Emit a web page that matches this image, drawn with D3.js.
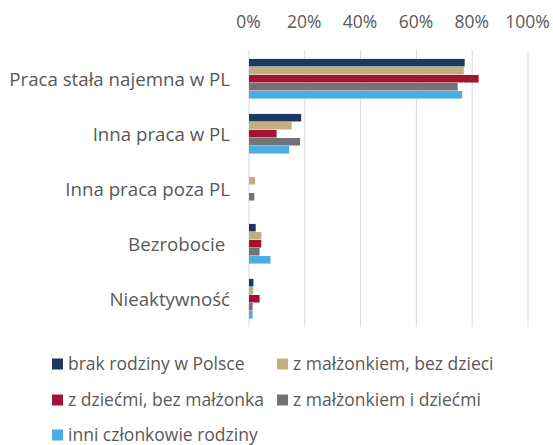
<!DOCTYPE html>
<html>
<head>
<meta charset="utf-8">
<script src="https://cdn.jsdelivr.net/npm/d3@7"></script>
<style>
  body { margin: 0; background: #fff; }
  svg text { font-family: "Open Sans", sans-serif; fill: #595959; white-space: pre; }
</style>
</head>
<body>
<div id="chart"></div>
<script>
var categories = ['Praca stała najemna w PL', 'Inna praca w PL', 'Inna praca poza PL', 'Bezrobocie ', 'Nieaktywność'];
var seriesNames = ['brak rodziny w Polsce', 'z małżonkiem, bez dzieci', 'z dziećmi, bez małżonka', 'z małżonkiem i dziećmi', 'inni członkowie rodziny'];
var seriesColors = ['#1f3862', '#c2ae7e', '#a11532', '#737373', '#4aaee2'];
// values in %, one array per series, in category order
var brakRodziny = [77.3, 18.7, 0, 2.4, 1.6];
var malzonekBezDzieci = [77.0, 15.3, 2.2, 4.4, 1.5];
var dzieciBezMalzonka = [82.3, 9.9, 0, 4.4, 3.8];
var malzonekIDzieci = [74.8, 18.3, 1.9, 3.8, 1.3];
var inniCzlonkowie = [76.4, 14.4, 0, 7.7, 1.3];
var tickValues = [0, 20, 40, 60, 80, 100];

var series = [brakRodziny, malzonekBezDzieci, dzieciBezMalzonka, malzonekIDzieci, inniCzlonkowie];

var width = 553, height = 445;
var svg = d3.select('#chart').append('svg')
    .attr('width', width)
    .attr('height', height);

var x = d3.scaleLinear().domain([0, 100]).range([248.5, 527.5]);
var y = d3.scaleBand().domain(categories).range([51.5, 326.5]).paddingInner(0.27).paddingOuter(0.135);
var yInner = d3.scaleBand().domain(d3.range(series.length)).range([0, y.bandwidth()]);

// gridlines + tick marks
svg.append('g').selectAll('line')
    .data(tickValues).enter().append('line')
    .attr('x1', function(d){ return x(d) + 0.5; })
    .attr('x2', function(d){ return x(d) + 0.5; })
    .attr('y1', 50)
    .attr('y2', 327)
    .attr('stroke', '#d9d9d9')
    .attr('stroke-width', 1);

// tick labels
svg.append('g').selectAll('text')
    .data(tickValues).enter().append('text')
    .attr('x', function(d){ return x(d); })
    .attr('y', 28)
    .attr('text-anchor', 'middle')
    .attr('font-size', 17.5)
    .text(function(d){ return d + '%'; });

// bars
var groups = svg.append('g').selectAll('g')
    .data(categories).enter().append('g')
    .attr('transform', function(c){ return 'translate(0,' + y(c) + ')'; });

groups.selectAll('rect')
    .data(function(c, ci){ return series.map(function(s, si){ return {si: si, v: s[ci]}; }); })
    .enter().append('rect')
    .attr('x', x(0) + 0.5)
    .attr('y', function(d){ return yInner(d.si); })
    .attr('height', yInner.bandwidth() - 0.5)
    .attr('width', function(d){ return Math.max(0, x(d.v) - x(0)); })
    .attr('fill', function(d){ return seriesColors[d.si]; });

// category labels
svg.append('g').selectAll('text')
    .data(categories).enter().append('text')
    .attr('x', 230)
    .attr('y', function(c){ return y(c) + y.bandwidth() / 2; })
    .attr('dy', '0.35em')
    .attr('text-anchor', 'end')
    .attr('font-size', 18.7)
    .text(function(c){ return c; });

// legend
var legendPos = [[52, 364], [277, 364], [52, 400], [277, 400], [52, 435]];
var legend = svg.append('g').selectAll('g')
    .data(seriesNames).enter().append('g')
    .attr('transform', function(d, i){ return 'translate(' + legendPos[i][0] + ',' + legendPos[i][1] + ')'; });

legend.append('rect')
    .attr('x', 0).attr('y', -5.5)
    .attr('width', 11).attr('height', 11)
    .attr('fill', function(d, i){ return seriesColors[i]; });

legend.append('text')
    .attr('x', 16)
    .attr('dy', '0.35em')
    .attr('font-size', 17.5)
    .text(function(d){ return d; });
</script>
</body>
</html>
